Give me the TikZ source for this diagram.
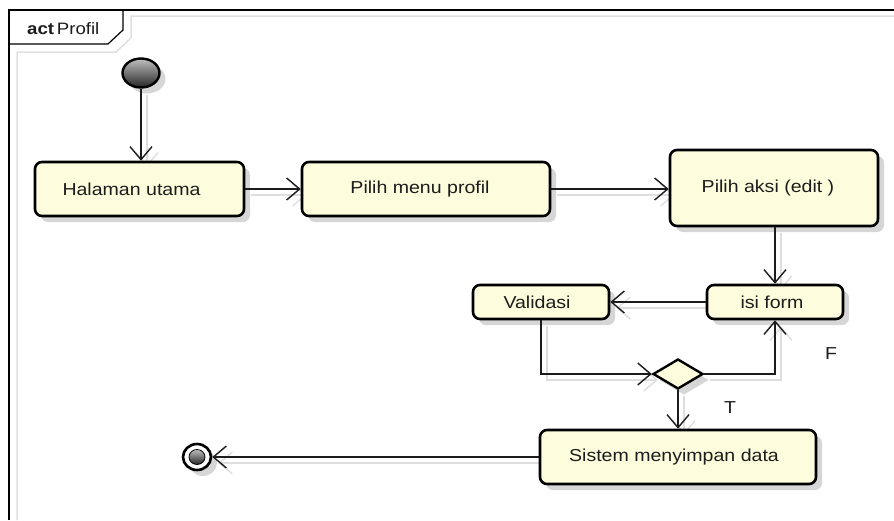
\documentclass[tikz,border=0pt]{standalone}
\usepackage{fontspec}
\setmainfont{Liberation Sans}[FakeStretch=1.13]
\usetikzlibrary{arrows.meta,shapes.geometric,shadows}
\pgfdeclarelayer{bg}
\pgfsetlayers{bg,main}
\definecolor{actfill}{RGB}{253,253,221}
\definecolor{inkc}{RGB}{28,28,28}

\begin{document}
\begin{tikzpicture}[x=1pt,y=-1pt,
  softshadow/.style={drop shadow={shadow xshift=6pt,shadow yshift=-6pt,fill=black,opacity=0.16}},
  action/.style={draw=black,line width=2.6pt,rounded corners=7pt,fill=actfill,softshadow,
    font=\fontsize{17.3}{20}\selectfont,text=inkc,inner sep=0pt},
  flow/.style={draw=inkc,line width=1.4pt,
    -{Straight Barb[length=13pt,width=22pt,line width=1.4pt]}},
  flowshade/.style={draw=black!13,line width=1.4pt,
    -{Straight Barb[length=13pt,width=22pt,line width=1.4pt]},
    transform canvas={shift={(6,6)}}},
  ballfill/.style={top color=gray!50,bottom color=black!85},
  guard/.style={font=\fontsize{17.3}{20}\selectfont,text=inkc,inner sep=0pt}
]
\useasboundingbox (0,0) rectangle (894,520);

% diagram frame with its name tab
\draw[black!12,line width=1.5pt] (17,520) -- (17,52) -- (116,52) -- (131,38) -- (131,16) -- (894,16);
\fill[white] (9,10) rectangle (123,44);
\draw[black,line width=1.4pt] (9,520) -- (9,10) -- (894,10);
\draw[black,line width=1.2pt] (9,44) -- (108,44) -- (123,30) -- (123,10);
\node[anchor=west,font=\fontsize{16.5}{19}\selectfont,text=inkc,inner sep=0pt] (title) at (27,29) {\textbf{act}\,Profil};

% initial and final nodes
\node[ellipse,draw=black,line width=2.4pt,minimum width=37pt,minimum height=29pt,
  inner sep=0pt,ballfill,softshadow] (start) at (141,73) {};
\node[ellipse,draw=black,line width=2.6pt,minimum width=28pt,minimum height=26pt,
  inner sep=0pt,fill=white,softshadow] (finish) at (197,457) {};
\node[ellipse,draw=black,line width=0.8pt,minimum width=16pt,minimum height=15pt,
  inner sep=0pt,ballfill] (finishcore) at (finish) {};

% actions
\node[action,minimum width=209pt,minimum height=54pt] (hal) at (139.5,189) {\hspace*{-16pt}Halaman utama};
\node[action,minimum width=248pt,minimum height=54pt] (menu) at (426,189) {\hspace*{-12pt}Pilih menu profil};
\node[action,minimum width=208pt,minimum height=76pt] (aksi) at (774,188) {\hspace*{-12pt}Pilih aksi (edit )};
\node[action,minimum width=136pt,minimum height=34pt] (isi) at (775,302) {\hspace*{-6pt}isi form};
\node[action,minimum width=136pt,minimum height=34pt] (val) at (541,302) {\hspace*{-8pt}Validasi};
\node[action,minimum width=276pt,minimum height=54pt] (sis) at (678,457) {\hspace*{-8pt}Sistem menyimpan data};

% decision
\node[diamond,draw=black,line width=2.4pt,fill=actfill,minimum width=50pt,minimum height=30pt,
  inner sep=0pt,aspect=1.67,softshadow] (dec) at (678,374) {};

% guard labels
\node[guard] (gF) at (831,354) {F};
\node[guard] (gT) at (730,408) {T};

% control flows, with their faint shadows underneath
\begin{pgfonlayer}{bg}
\draw[flowshade] (start) -- (start |- hal.north);
\draw[flowshade] (hal.east) -- (menu.west);
\draw[flowshade] (menu.east) -- (menu.east -| aksi.west);
\draw[flowshade] (aksi.south -| isi.north) -- (isi.north);
\draw[flowshade] (isi.west) -- (val.east);
\draw[flowshade] (val.south) |- (dec.west);
\draw[flowshade] (dec.east) -| (isi.south);
\draw[flowshade] (dec.south) -- (sis.north);
\draw[flowshade] (sis.west) -- (finish.east);
\end{pgfonlayer}

\draw[flow] (start) -- (start |- hal.north);
\draw[flow] (hal.east) -- (menu.west);
\draw[flow] (menu.east) -- (menu.east -| aksi.west);
\draw[flow] (aksi.south -| isi.north) -- (isi.north);
\draw[flow] (isi.west) -- (val.east);
\draw[flow] (val.south) |- (dec.west);
\draw[flow] (dec.east) -| (isi.south);
\draw[flow] (dec.south) -- (sis.north);
\draw[flow] (sis.west) -- (finish.east);
\end{tikzpicture}
\end{document}
